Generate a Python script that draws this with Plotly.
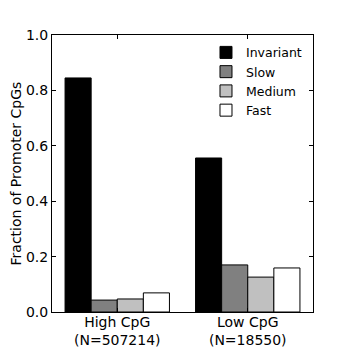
import plotly.graph_objects as go

groups = ["High CpG<br>(N=507214)", "Low CpG<br>(N=18550)"]
series = ["Invariant", "Slow", "Medium", "Fast"]
colors = ["#000000", "#808080", "#c0c0c0", "#ffffff"]
invariant = [0.845, 0.556]
slow = [0.043, 0.170]
medium = [0.047, 0.126]
fast = [0.069, 0.159]
values = [invariant, slow, medium, fast]

fig = go.Figure()
for name, col, vals in zip(series, colors, values):
    fig.add_trace(go.Bar(x=groups, y=vals, name=name, marker=dict(color=col, line=dict(color="black", width=1))))

# page body adds an 8px offset, margins compensate for it
fig.update_layout(
    width=347, height=347,
    margin=dict(l=44, r=42, t=27, b=43),
    barmode="group", bargap=0.2, bargroupgap=0,
    plot_bgcolor="white", paper_bgcolor="white",
    font=dict(family="DejaVu Sans", size=14, color="black"),
    legend=dict(x=0.59, y=0.99, xanchor="left", yanchor="top", bgcolor="rgba(0,0,0,0)",
                itemwidth=30, tracegroupgap=0, font=dict(size=12.5)),
)
fig.add_annotation(text="Fraction of Promoter CpGs", xref="paper", yref="paper",
                   x=-0.138, y=0.5, xanchor="center", yanchor="middle",
                   textangle=-90, showarrow=False, font=dict(size=14))
fig.update_xaxes(showline=True, linecolor="black", linewidth=1, mirror="ticks", automargin=False,
                 ticks="inside", ticklen=4, tickcolor="black", range=[-0.5, 1.5],
                 ticklabelstandoff=-3)
fig.update_yaxes(showline=True, linecolor="black", linewidth=1, mirror="ticks", automargin=False,
                 ticks="inside", ticklen=4, tickcolor="black", range=[0, 1.0],
                 dtick=0.2, tickformat=".1f", showgrid=False, zeroline=False)
fig.write_html("out.html")
